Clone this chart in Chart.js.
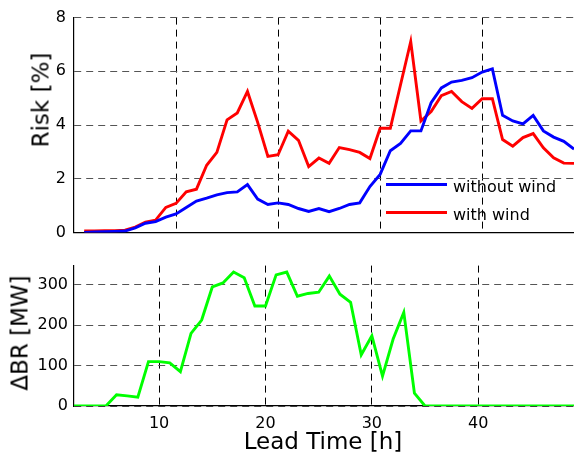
<!DOCTYPE html>
<html>
<head>
<meta charset="utf-8">
<script src="https://cdn.jsdelivr.net/npm/chart.js@4.4.1/dist/chart.umd.min.js"></script>
<style>
  body { margin: 0; background: #fff; }
  #wrap { position: relative; width: 574px; height: 461px; overflow: hidden; font-family: "DejaVu Sans", sans-serif; color: #000; }
  canvas { position: absolute; left: 0; }
  .title { position: absolute; font-size: 23px; line-height: 23px; white-space: nowrap; }
  .rot { transform: translate(-50%, -50%) rotate(-90deg); }
  .leg { position: absolute; font-size: 16px; line-height: 16px; white-space: nowrap; }
  .swatch { position: absolute; height: 3px; width: 61px; }
</style>
</head>
<body>
<div id="wrap">
  <canvas id="riskPlot" width="574" height="250" style="top:0"></canvas>
  <canvas id="brPlot" width="574" height="211" style="top:250px"></canvas>

  <div class="title rot" style="left:41px; top:100px">Risk [%]</div>
  <div class="title rot" style="left:20px; top:333px">&Delta;BR [MW]</div>
  <div class="title" style="left:323px; top:430px; transform: translateX(-50%)">Lead Time [h]</div>

  <div class="swatch" style="left:386px; top:183px; background:#0000ff"></div>
  <div class="leg" style="left:453px; top:179px">without wind</div>
  <div class="swatch" style="left:386px; top:211px; background:#ff0000"></div>
  <div class="leg" style="left:453px; top:207px">with wind</div>
</div>

<script>
// lead time in hours
var riskHours = [];
for (var h = 1; h <= 49; h++) riskHours.push(h);
var brHours = riskHours.slice(1); // 2..49

// risk [%]
var riskNoWind = [0.0, 0.02, 0.03, 0.04, 0.05, 0.17, 0.34, 0.4, 0.57, 0.69,
  0.93, 1.17, 1.28, 1.4, 1.48, 1.51, 1.78, 1.24, 1.04, 1.1,
  1.04, 0.89, 0.78, 0.89, 0.77, 0.89, 1.04, 1.1, 1.71, 2.16,
  3.04, 3.31, 3.78, 3.78, 4.83, 5.38, 5.6, 5.66, 5.76, 5.97,
  6.09, 4.36, 4.15, 4.04, 4.36, 3.78, 3.55, 3.39, 3.1];
var riskWind = [0.05, 0.05, 0.06, 0.06, 0.08, 0.2, 0.38, 0.46, 0.93, 1.08,
  1.51, 1.61, 2.5, 2.98, 4.19, 4.45, 5.25, 4.1, 2.83, 2.89,
  3.77, 3.43, 2.45, 2.77, 2.57, 3.16, 3.08, 2.98, 2.75, 3.88,
  3.88, 5.5, 7.11, 4.15, 4.5, 5.09, 5.25, 4.87, 4.62, 4.98,
  4.98, 3.46, 3.21, 3.53, 3.68, 3.15, 2.78, 2.58, 2.57];

// delta BR [MW], hours 2..49
var deltaBR = [0, 0, 0, 0, 28, 25, 22, 110, 110, 107,
  85, 180, 213, 295, 305, 332, 318, 248, 248, 325,
  332, 272, 279, 282, 322, 277, 257, 127, 174, 74,
  166, 232, 32, 0, 0, 0, 0, 0, 0, 0,
  0, 0, 0, 0, 0, 0, 0, 0];

var yTicksRisk = [0, 2, 4, 6, 8];
var yTicksBR = [0, 100, 200, 300];
var xTicks = [10, 20, 30, 40];

function pairs(xs, ys) {
  return xs.map(function (x, i) { return { x: x, y: ys[i] }; });
}

var tickFont = { family: "DejaVu Sans", size: 16 };
var dash = [7, 5];

function lineSet(data, color) {
  return {
    data: data,
    borderColor: color,
    borderWidth: 2.9,
    pointRadius: 0,
    tension: 0,
    fill: false,
  };
}

function fixTicks(list) {
  return function (scale) {
    scale.ticks = list.map(function (v) { return { value: v }; });
  };
}

new Chart("riskPlot", {
  type: "line",
  data: {
    datasets: [
      lineSet(pairs(riskHours, riskNoWind), "#0000ff"),
      lineSet(pairs(riskHours, riskWind), "#ff0000"),
    ],
  },
  options: {
    responsive: false,
    animation: false,
    devicePixelRatio: 1,
    layout: { autoPadding: false, padding: { top: 11, left: 0, right: 0, bottom: 0 } },
    plugins: { legend: { display: false }, tooltip: { enabled: false } },
    scales: {
      x: {
        type: "linear", min: 0, max: 49,
        afterBuildTicks: fixTicks(xTicks),
        afterFit: function (s) { s.height = 12; },
        ticks: { display: false },
        grid: { color: "#000", drawTicks: false },
        border: { color: "#000", width: 1.2, dash: dash },
      },
      y: {
        min: 0, max: 8,
        afterBuildTicks: fixTicks(yTicksRisk),
        afterFit: function (s) { s.width = 74; },
        ticks: { color: "#000", padding: 8, font: tickFont },
        grid: { color: "#555", drawTicks: false },
        border: { color: "#000", width: 1.2, dash: dash },
      },
    },
  },
});

new Chart("brPlot", {
  type: "line",
  data: {
    datasets: [lineSet(pairs(brHours, deltaBR), "#00ff00")],
  },
  options: {
    responsive: false,
    animation: false,
    devicePixelRatio: 1,
    layout: { autoPadding: false, padding: { top: 12, left: 0, right: 0, bottom: 0 } },
    plugins: { legend: { display: false }, tooltip: { enabled: false } },
    scales: {
      x: {
        type: "linear", min: 2, max: 49,
        afterBuildTicks: fixTicks(xTicks),
        afterFit: function (s) { s.height = 55; },
        ticks: { color: "#000", padding: 8, font: tickFont, maxRotation: 0 },
        grid: { color: "#000", drawTicks: false },
        border: { color: "#000", width: 1.2, dash: dash },
      },
      y: {
        min: 0, max: 348,
        afterBuildTicks: fixTicks(yTicksBR),
        afterFit: function (s) { s.width = 74; },
        ticks: { color: "#000", padding: 6, font: tickFont },
        grid: { color: "#555", drawTicks: false },
        border: { color: "#000", width: 1.2, dash: dash },
      },
    },
  },
});
</script>
</body>
</html>
